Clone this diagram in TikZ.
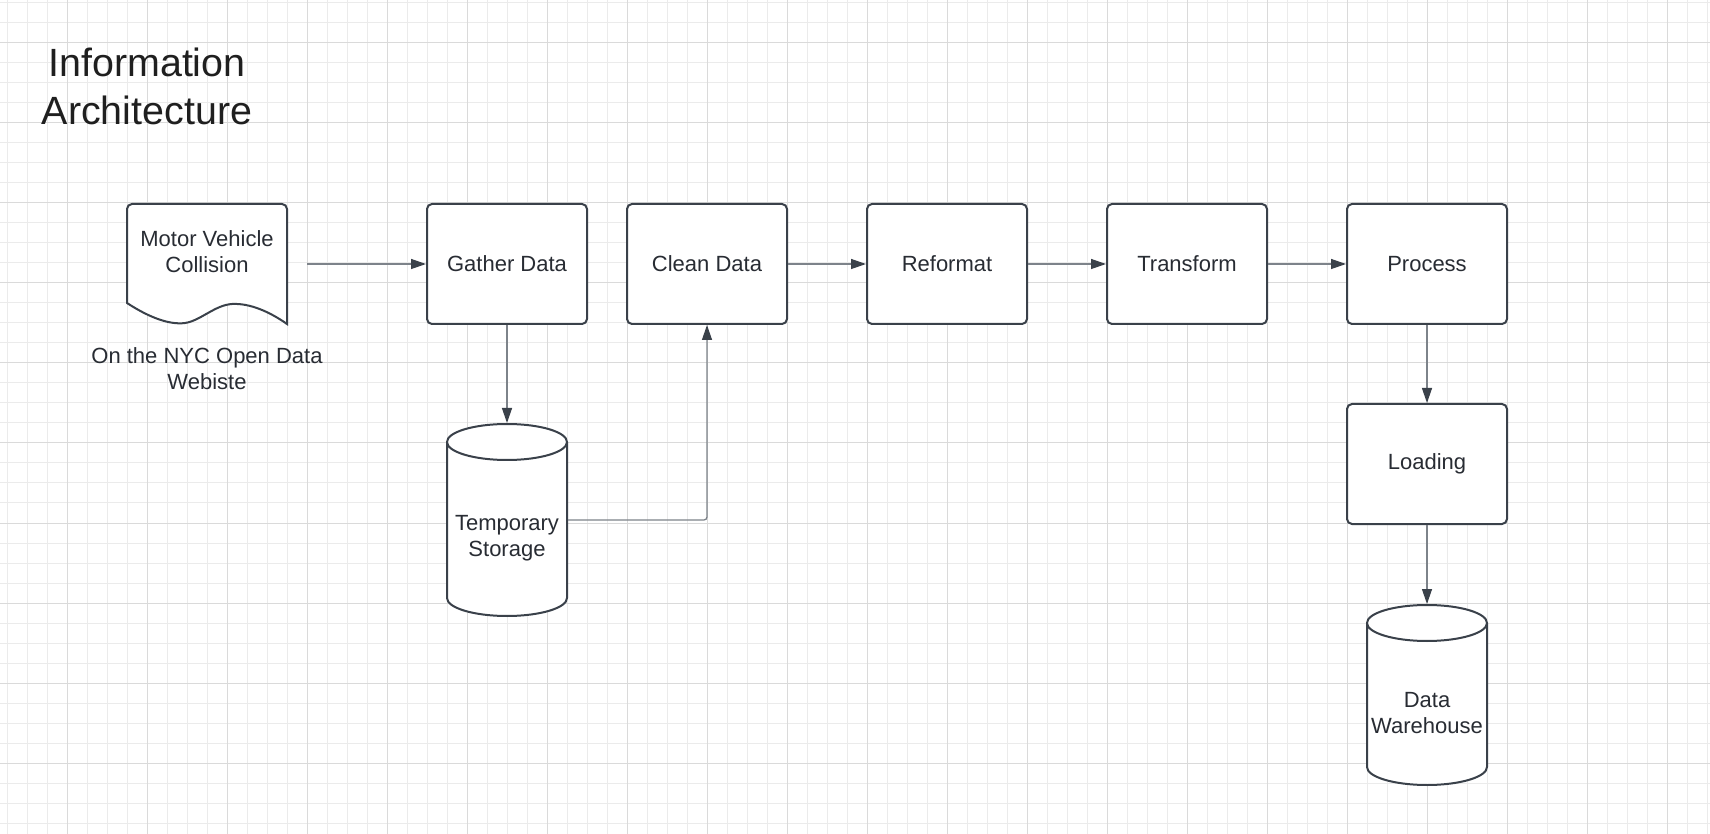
\documentclass[tikz,border=0pt]{standalone}
\usepackage{fontspec}
\setmainfont{Liberation Sans}
\usepackage{tikz}
\usetikzlibrary{arrows.meta, positioning, calc, shapes.geometric}
\definecolor{shapeline}{HTML}{3A414A}
\definecolor{connline}{HTML}{7D838A}
\definecolor{labeltext}{HTML}{282C33}
\definecolor{gridminor}{HTML}{EBEBEB}
\definecolor{gridmajor}{HTML}{DADADA}

\begin{document}
\begin{tikzpicture}[
    x=0.5pt, y=-0.5pt,
    node distance=19pt and 19pt,
    box/.style={draw=shapeline, line width=1pt, rounded corners=2.5pt, align=center,
                font=\fontsize{11pt}{13pt}\selectfont, text=labeltext,
                minimum width=80pt, minimum height=60pt, fill=white},
    db/.style={draw=shapeline, line width=1pt, cylinder, shape border rotate=90,
               aspect=0.3, inner sep=30pt, minimum width=60pt, fill=white},
    plain/.style={align=center, font=\fontsize{11pt}{13pt}\selectfont, text=labeltext},
    arr/.style={-{Triangle[length=7.5pt, width=5pt, color=shapeline]},
                line width=0.65pt, draw=connline}
]
% background grid
\fill[white] (0,0) rectangle (1710,834);
\useasboundingbox (0,0) rectangle (1710,834);
\foreach \x in {7,27,...,1710} \draw[gridminor, line width=0.5pt] (\x,0) -- (\x,834);
\foreach \y in {3,23,...,834} \draw[gridminor, line width=0.5pt] (0,\y) -- (1710,\y);
\foreach \x in {67,147,...,1710} \draw[gridmajor, line width=0.5pt] (\x,0) -- (\x,834);
\foreach \y in {43,123,...,834} \draw[gridmajor, line width=0.5pt] (0,\y) -- (1710,\y);

\node[align=center, font=\fontsize{19.7pt}{24pt}\selectfont, text=black!88] (title) at (147,86)
{Information\\Architecture};

% source document
\draw[shapeline, line width=1pt, fill=white] (127,303) [rounded corners=2.5pt] -- (127,204)
  -- (287,204) [sharp corners] -- (287,324)
  .. controls (270,312) and (250,303) .. (232,304)
  .. controls (215,305) and (200,321) .. (185,323)
  .. controls (170,325) and (150,318) .. (127,303) -- cycle;
\node[minimum width=80pt, minimum height=60pt,
      label={[plain, yshift=6pt]center:{Motor Vehicle\\Collision}}] (doc) at (207,264) {};
\node[plain, below=8pt of doc] (src) {On the NYC Open Data\\Webiste};

\node[box] (gather) at (507,264) {Gather Data};
\node[box, right=of gather] (clean) {Clean Data};
\node[box, right=39pt of clean] (reformat) {Reformat};
\node[box, right=39pt of reformat] (transform) {Transform};
\node[box, right=39pt of transform] (process) {Process};
\node[box, below=39pt of process] (loading) {Loading};

\node[db, below=49pt of gather, minimum height=96pt,
      label={[plain]center:{Temporary\\Storage}}] (tmp) {};
\node[db, below=39.5pt of loading, minimum height=90pt,
      label={[plain]center:{Data\\Warehouse}}] (dwh) {};

\draw[arr, shorten <=10pt] (doc) -- (gather);
\draw[arr] (gather) -- (tmp);
\draw[arr, rounded corners=1.5pt] (tmp.shape center -| tmp.east) -| (clean);
\draw[arr] (clean) -- (reformat);
\draw[arr] (reformat) -- (transform);
\draw[arr] (transform) -- (process);
\draw[arr] (process) -- (loading);
\draw[arr] (loading) -- (dwh);
\end{tikzpicture}
\end{document}
